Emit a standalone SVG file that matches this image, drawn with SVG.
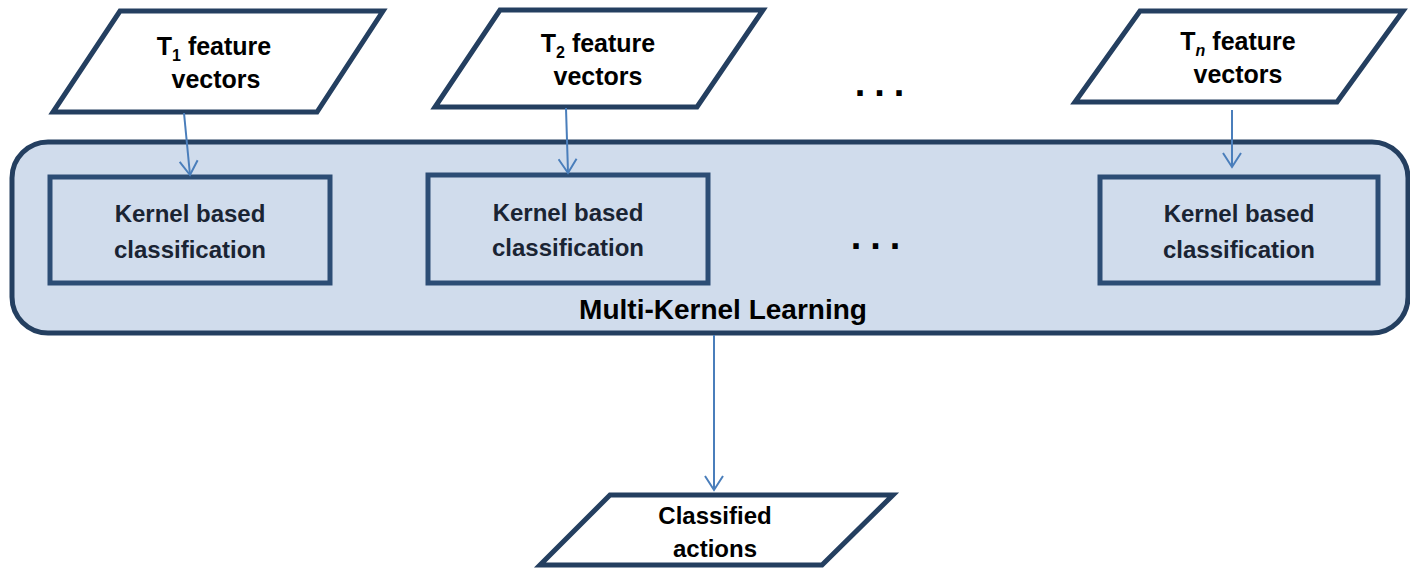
<svg xmlns="http://www.w3.org/2000/svg" width="1410" height="573" viewBox="0 0 1410 573">
<style>
.io{fill:#fff;stroke:#243F60;stroke-width:5;stroke-linejoin:miter}
.box{fill:none;stroke:#2C4D75;stroke-width:5}
.t{font-family:"Liberation Sans",Arial,sans-serif;font-weight:bold;font-size:24px;text-anchor:middle;fill:#000}
.big{font-size:25px}
.k{fill:#1A2433}
.c{fill:none;stroke:#4A7EBB;stroke-width:2}
.dots{font-family:"Liberation Sans",Arial,sans-serif;font-weight:bold;font-size:38px;text-anchor:middle;fill:#000;letter-spacing:9px}
</style>
<defs>
<marker id="ah" viewBox="0 0 20 20" refX="18" refY="10" markerWidth="20" markerHeight="20" markerUnits="userSpaceOnUse" orient="auto">
<path d="M4,1 L18,10 L4,19" fill="none" stroke="#4A7EBB" stroke-width="2"/>
</marker>
</defs>
<rect width="1410" height="573" fill="#fff"/>
<g id="mkl">
<rect x="12" y="142" width="1396" height="191" rx="36" ry="36" fill="#D0DCEC" stroke="#243F60" stroke-width="5"/>
<text class="t" x="723" y="319" font-size="28" style="font-size:28px">Multi-Kernel Learning</text>
</g>
<g id="in1">
<polygon class="io" points="120,11 383,11 317,112 53,112"/>
<text class="t big" x="214" y="55">T<tspan font-size="16" dy="6">1</tspan><tspan dy="-6"> feature</tspan></text>
<text class="t big" x="216" y="88">vectors</text>
</g>
<g id="in2">
<polygon class="io" points="500,10 763,10 697,107 435,107"/>
<text class="t big" x="598" y="52">T<tspan font-size="16" dy="6">2</tspan><tspan dy="-6"> feature</tspan></text>
<text class="t big" x="598" y="85">vectors</text>
</g>
<g id="inn">
<polygon class="io" points="1140,11 1403,11 1337,102 1075,102"/>
<text class="t big" x="1238" y="50">T<tspan font-size="16" dy="6" font-style="italic">n</tspan><tspan dy="-6"> feature</tspan></text>
<text class="t big" x="1238" y="83">vectors</text>
</g>
<g id="dots1"><text class="dots" x="884" y="96">...</text></g>
<g id="k1">
<rect class="box" x="50" y="177" width="280" height="106"/>
<text class="t k" x="190" y="222">Kernel based</text>
<text class="t k" x="190" y="258">classification</text>
</g>
<g id="k2">
<rect class="box" x="428" y="175" width="280" height="108"/>
<text class="t k" x="568" y="221">Kernel based</text>
<text class="t k" x="568" y="256">classification</text>
</g>
<g id="dots2"><text class="dots" x="880" y="249">...</text></g>
<g id="kn">
<rect class="box" x="1100" y="177" width="278" height="106"/>
<text class="t k" x="1239" y="222">Kernel based</text>
<text class="t k" x="1239" y="258">classification</text>
</g>
<g id="out">
<polygon class="io" points="610,495 893,495 822,565 540,565"/>
<text class="t" x="715" y="524">Classified</text>
<text class="t" x="715" y="557">actions</text>
</g>
<g id="connectors">
<line class="c" x1="184" y1="113" x2="190" y2="175" marker-end="url(#ah)"/>
<line class="c" x1="566" y1="108" x2="568" y2="173" marker-end="url(#ah)"/>
<line class="c" x1="1232" y1="110" x2="1232" y2="167" marker-end="url(#ah)"/>
<line class="c" x1="714" y1="335" x2="714" y2="490" marker-end="url(#ah)"/>
</g>
</svg>
